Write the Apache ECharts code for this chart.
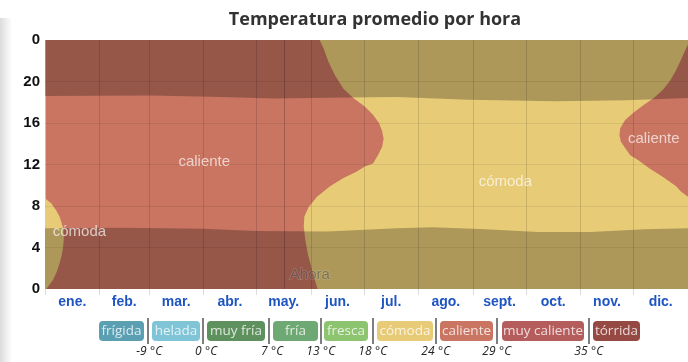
<!DOCTYPE html>
<html>
<head>
<meta charset="utf-8">
<title>Temperatura promedio por hora</title>
<script src="https://cdn.jsdelivr.net/npm/echarts@6/dist/echarts.min.js"></script>
<style>
  html, body { margin: 0; padding: 0; background: #fff; }
  #chart { width: 688px; height: 362px; }
</style>
</head>
<body>
<div id="chart"></div>
<script>
// ---- Data: day of year (0..365) on x, hour of day (0..24) on y ----
const monthNames = ['ene.', 'feb.', 'mar.', 'abr.', 'may.', 'jun.', 'jul.', 'ago.', 'sept.', 'oct.', 'nov.', 'dic.'];
const monthStartDays = [0, 31, 59, 90, 120, 151, 181, 212, 243, 273, 304, 334];
const monthMidDays = [15.5, 45, 74.5, 105, 135.5, 166, 196.5, 227.5, 258, 288.5, 319, 349.5];
const yearLength = 365;
const hourTicks = [0, 4, 8, 12, 16, 20, 24];
const nowDay = 136;

// caliente -> cómoda boundary entering winter (from midnight up to midnight)
const comodaWestEdge = [
  [154.9, 0], [154.4, 0.2], [151.6, 1.8], [149.2, 3.4], [147.8, 4.7], [146.9, 6.0],
  [147.2, 7.0], [149.7, 7.9], [154.4, 8.9], [161.8, 9.9], [169.4, 10.7], [176.8, 11.3],
  [181.5, 11.8], [186.2, 12.1], [189.0, 12.9], [191.4, 13.7], [192.2, 14.5], [191.4, 15.2],
  [189.6, 16.0], [186.2, 16.8], [181.5, 17.6], [175.0, 18.4], [169.4, 19.3], [164.6, 20.6],
  [160.9, 21.9], [158.1, 23.2], [155.9, 24]
];
// cómoda -> caliente boundary in December (from late evening down to morning)
const comodaEastEdge = [
  [365, 23.6], [361.0, 22.1], [358.3, 21.1], [354.9, 20.1], [350.8, 19.2], [345.6, 18.4],
  [339.6, 17.7], [334.0, 17.0], [329.3, 16.3], [326.5, 15.5], [326.1, 14.8], [326.9, 14.2],
  [329.3, 13.6], [332.2, 12.9], [336.8, 12.4], [343.4, 11.6], [350.8, 10.8], [358.3, 9.9],
  [361.0, 9.4], [365, 8.9]
];
// early-January cómoda pocket before dawn
const comodaJanuaryEdge = [
  [0, 8.74], [3.5, 8.26], [6.3, 7.6], [8.3, 6.97], [9.5, 6.34], [10.5, 5.69], [10.7, 4.89],
  [10.3, 4.08], [9.5, 3.28], [8.3, 2.48], [6.7, 1.67], [4.5, 0.87], [1.7, 0.22], [0.7, 0]
];
// twilight limits (hour) through the year
const dawnHours = [
  [0, 5.85], [45, 5.9], [90, 5.8], [120, 5.6], [160, 5.55], [200, 5.85], [220, 5.95],
  [250, 5.75], [280, 5.5], [310, 5.5], [340, 5.75], [365, 5.85]
];
const duskHours = [
  [0, 18.6], [60, 18.65], [100, 18.5], [130, 18.35], [170, 18.45], [200, 18.5],
  [240, 18.25], [290, 18.1], [330, 18.2], [365, 18.4]
];

// band labels placed inside the plot
const bandLabels = [
  { name: 'caliente', day: 90.4, hour: 12.3, anchor: 'center' },
  { name: 'cómoda', day: 4.1, hour: 5.5, anchor: 'left' },
  { name: 'cómoda', day: 261.3, hour: 10.3, anchor: 'center' },
  { name: 'caliente', day: 330.6, hour: 14.5, anchor: 'left' }
];
const nowLabel = { name: 'Ahora', day: 138.7, hour: 1.35 };

// legend bands and their limits (°C)
const legendBands = ['frígida', 'helada', 'muy fría', 'fría', 'fresca', 'cómoda', 'caliente', 'muy caliente', 'tórrida'];
const legendLimits = [-9, 0, 7, 13, 18, 24, 29, 35];

// ---- Styles ----
const bandColors = {
  'frígida': '#5b9fb3', 'helada': '#7fc4d7', 'muy fría': '#5f915f', 'fría': '#6ea873',
  'fresca': '#8dc470', 'cómoda': '#e7cb77', 'caliente': '#c97562', 'muy caliente': '#b55c5c',
  'tórrida': '#964842'
};
const legendBoxes = [[99, 144], [152, 200], [207, 265], [273, 318], [324, 368], [377, 433], [440, 493], [502, 584], [593, 640]];
const legendSeparators = [148, 203, 269, 321, 373, 436, 497, 589];

function polygonSeries(name, points, fill, z) {
  return {
    type: 'custom',
    name: name,
    silent: true,
    z: z,
    data: [[0, 0]],
    renderItem: function (params, api) {
      return {
        type: 'polygon',
        shape: { points: points.map(function (p) { return api.coord(p); }) },
        style: { fill: fill }
      };
    }
  };
}

const top24 = [[0, 24], [yearLength, 24]];
const caliente = [[0, 0], [yearLength, 0], [yearLength, 24], [0, 24]];
const comodaMain = comodaWestEdge
  .concat([[yearLength, 24]])
  .concat(comodaEastEdge)
  .concat([[yearLength, 0]]);
const comodaJanuary = comodaJanuaryEdge.concat([[0, 0]]);
const comodaFirstDay = [[0, 0], [0.5, 0], [0.5, 24], [0, 24]];
const nightMorning = [[0, 0], [yearLength, 0]].concat(dawnHours.slice().reverse());
const nightEvening = top24.concat(duskHours.slice().reverse());

const gridLineColor = 'rgba(0,0,0,0.13)';
const markLines = []
  .concat(monthStartDays.slice(1).map(function (d) {
    return { xAxis: d, lineStyle: { color: gridLineColor, width: 1, type: 'solid' } };
  }))
  .concat(hourTicks.slice(1, -1).map(function (h) {
    return { yAxis: h, lineStyle: { color: 'rgba(0,0,0,0.07)', width: 1, type: 'solid' } };
  }))
  .concat([{ xAxis: nowDay, lineStyle: { color: 'rgba(0,0,0,0.2)', width: 1, type: 'solid' } }]);

const labelData = bandLabels.map(function (b) {
  return {
    value: [b.day, b.hour],
    name: b.name,
    label: {
      position: b.anchor === 'left' ? 'right' : 'inside',
      distance: 0
    }
  };
});
labelData.push({
  value: [nowLabel.day, nowLabel.hour],
  name: nowLabel.name,
  label: {
    position: 'right',
    distance: 0,
    color: 'rgba(60,60,60,0.62)',
    textBorderColor: 'rgba(255,255,255,0.2)',
    textBorderWidth: 1.5
  }
});

// ---- Legend drawn as graphic elements ----
const legendGraphics = [{
  // soft grey shading along the left page edge
  type: 'rect',
  shape: { x: 0, y: 18, width: 12, height: 344 },
  style: {
    fill: new echarts.graphic.LinearGradient(0, 0, 1, 0, [
      { offset: 0, color: 'rgba(190,190,190,0.55)' },
      { offset: 1, color: 'rgba(190,190,190,0)' }
    ])
  },
  silent: true
}];
legendBands.forEach(function (name, i) {
  const box = legendBoxes[i];
  legendGraphics.push({
    type: 'rect',
    shape: { x: box[0], y: 321, width: box[1] - box[0], height: 20, r: 4 },
    style: { fill: bandColors[name] },
    silent: true
  });
  legendGraphics.push({
    type: 'text',
    x: (box[0] + box[1]) / 2,
    y: 331,
    style: {
      text: name,
      fill: 'rgba(255,255,255,0.78)',
      font: '13.5px "Open Sans", sans-serif',
      align: 'center',
      verticalAlign: 'middle'
    },
    silent: true
  });
});
legendLimits.forEach(function (v, i) {
  const sx = legendSeparators[i];
  legendGraphics.push({
    type: 'line',
    shape: { x1: sx, y1: 318, x2: sx, y2: 344 },
    style: { stroke: '#555', lineWidth: 1.5 },
    silent: true
  });
  legendGraphics.push({
    type: 'text',
    x: sx - 1.5,
    y: 352,
    style: {
      text: String(v),
      fill: '#222',
      font: 'italic 12px "Open Sans", sans-serif',
      align: 'right',
      verticalAlign: 'middle'
    },
    silent: true
  });
  legendGraphics.push({
    type: 'text',
    x: sx + 2,
    y: 352,
    style: {
      text: '°C',
      fill: '#222',
      font: 'italic 12px "Open Sans", sans-serif',
      align: 'left',
      verticalAlign: 'middle'
    },
    silent: true
  });
});

const chart = echarts.init(document.getElementById('chart'), null, { renderer: 'canvas' });
chart.setOption({
  animation: false,
  backgroundColor: '#fff',
  title: {
    text: 'Temperatura promedio por hora',
    left: 370,
    top: 6,
    textAlign: 'center',
    textStyle: { fontFamily: 'Open Sans', fontWeight: 'bold', fontSize: 18, color: '#333' }
  },
  grid: { left: 45, top: 40, width: 650, height: 249 },
  xAxis: {
    type: 'value',
    min: 0,
    max: yearLength,
    splitLine: { show: false },
    axisLine: { show: false },
    axisTick: { show: true, customValues: monthStartDays, length: 6, lineStyle: { color: '#ddd' } },
    axisLabel: {
      customValues: monthMidDays,
      formatter: function (v) {
        const i = monthMidDays.indexOf(v);
        return i >= 0 ? monthNames[i] : '';
      },
      margin: 6,
      color: '#1f55c2',
      fontFamily: 'Liberation Sans',
      fontWeight: 'bold',
      fontSize: 14
    }
  },
  yAxis: {
    type: 'value',
    min: 0,
    max: 24,
    interval: 4,
    splitLine: { show: false },
    axisLine: { show: false },
    axisTick: { show: false },
    axisLabel: {
      formatter: function (v) { return String(v % 24); },
      margin: 5,
      color: '#111',
      fontFamily: 'Liberation Sans',
      fontWeight: 'bold',
      fontSize: 15
    }
  },
  series: [
    polygonSeries('caliente', caliente, bandColors['caliente'], 1),
    polygonSeries('cómoda', comodaMain, bandColors['cómoda'], 2),
    polygonSeries('cómoda enero', comodaJanuary, bandColors['cómoda'], 2),
    polygonSeries('cómoda 1 ene', comodaFirstDay, bandColors['cómoda'], 2),
    polygonSeries('noche mañana', nightMorning, 'rgba(0,0,0,0.25)', 3),
    polygonSeries('noche tarde', nightEvening, 'rgba(0,0,0,0.25)', 3),
    {
      type: 'scatter',
      name: 'etiquetas',
      z: 5,
      silent: true,
      symbolSize: 1,
      itemStyle: { color: 'rgba(0,0,0,0)' },
      data: labelData,
      label: {
        show: true,
        formatter: '{b}',
        color: 'rgba(255,255,255,0.85)',
        fontFamily: 'Liberation Sans',
        fontSize: 15
      },
      markLine: {
        silent: true,
        symbol: 'none',
        label: { show: false },
        data: markLines
      }
    }
  ],
  graphic: legendGraphics
});
</script>
</body>
</html>
